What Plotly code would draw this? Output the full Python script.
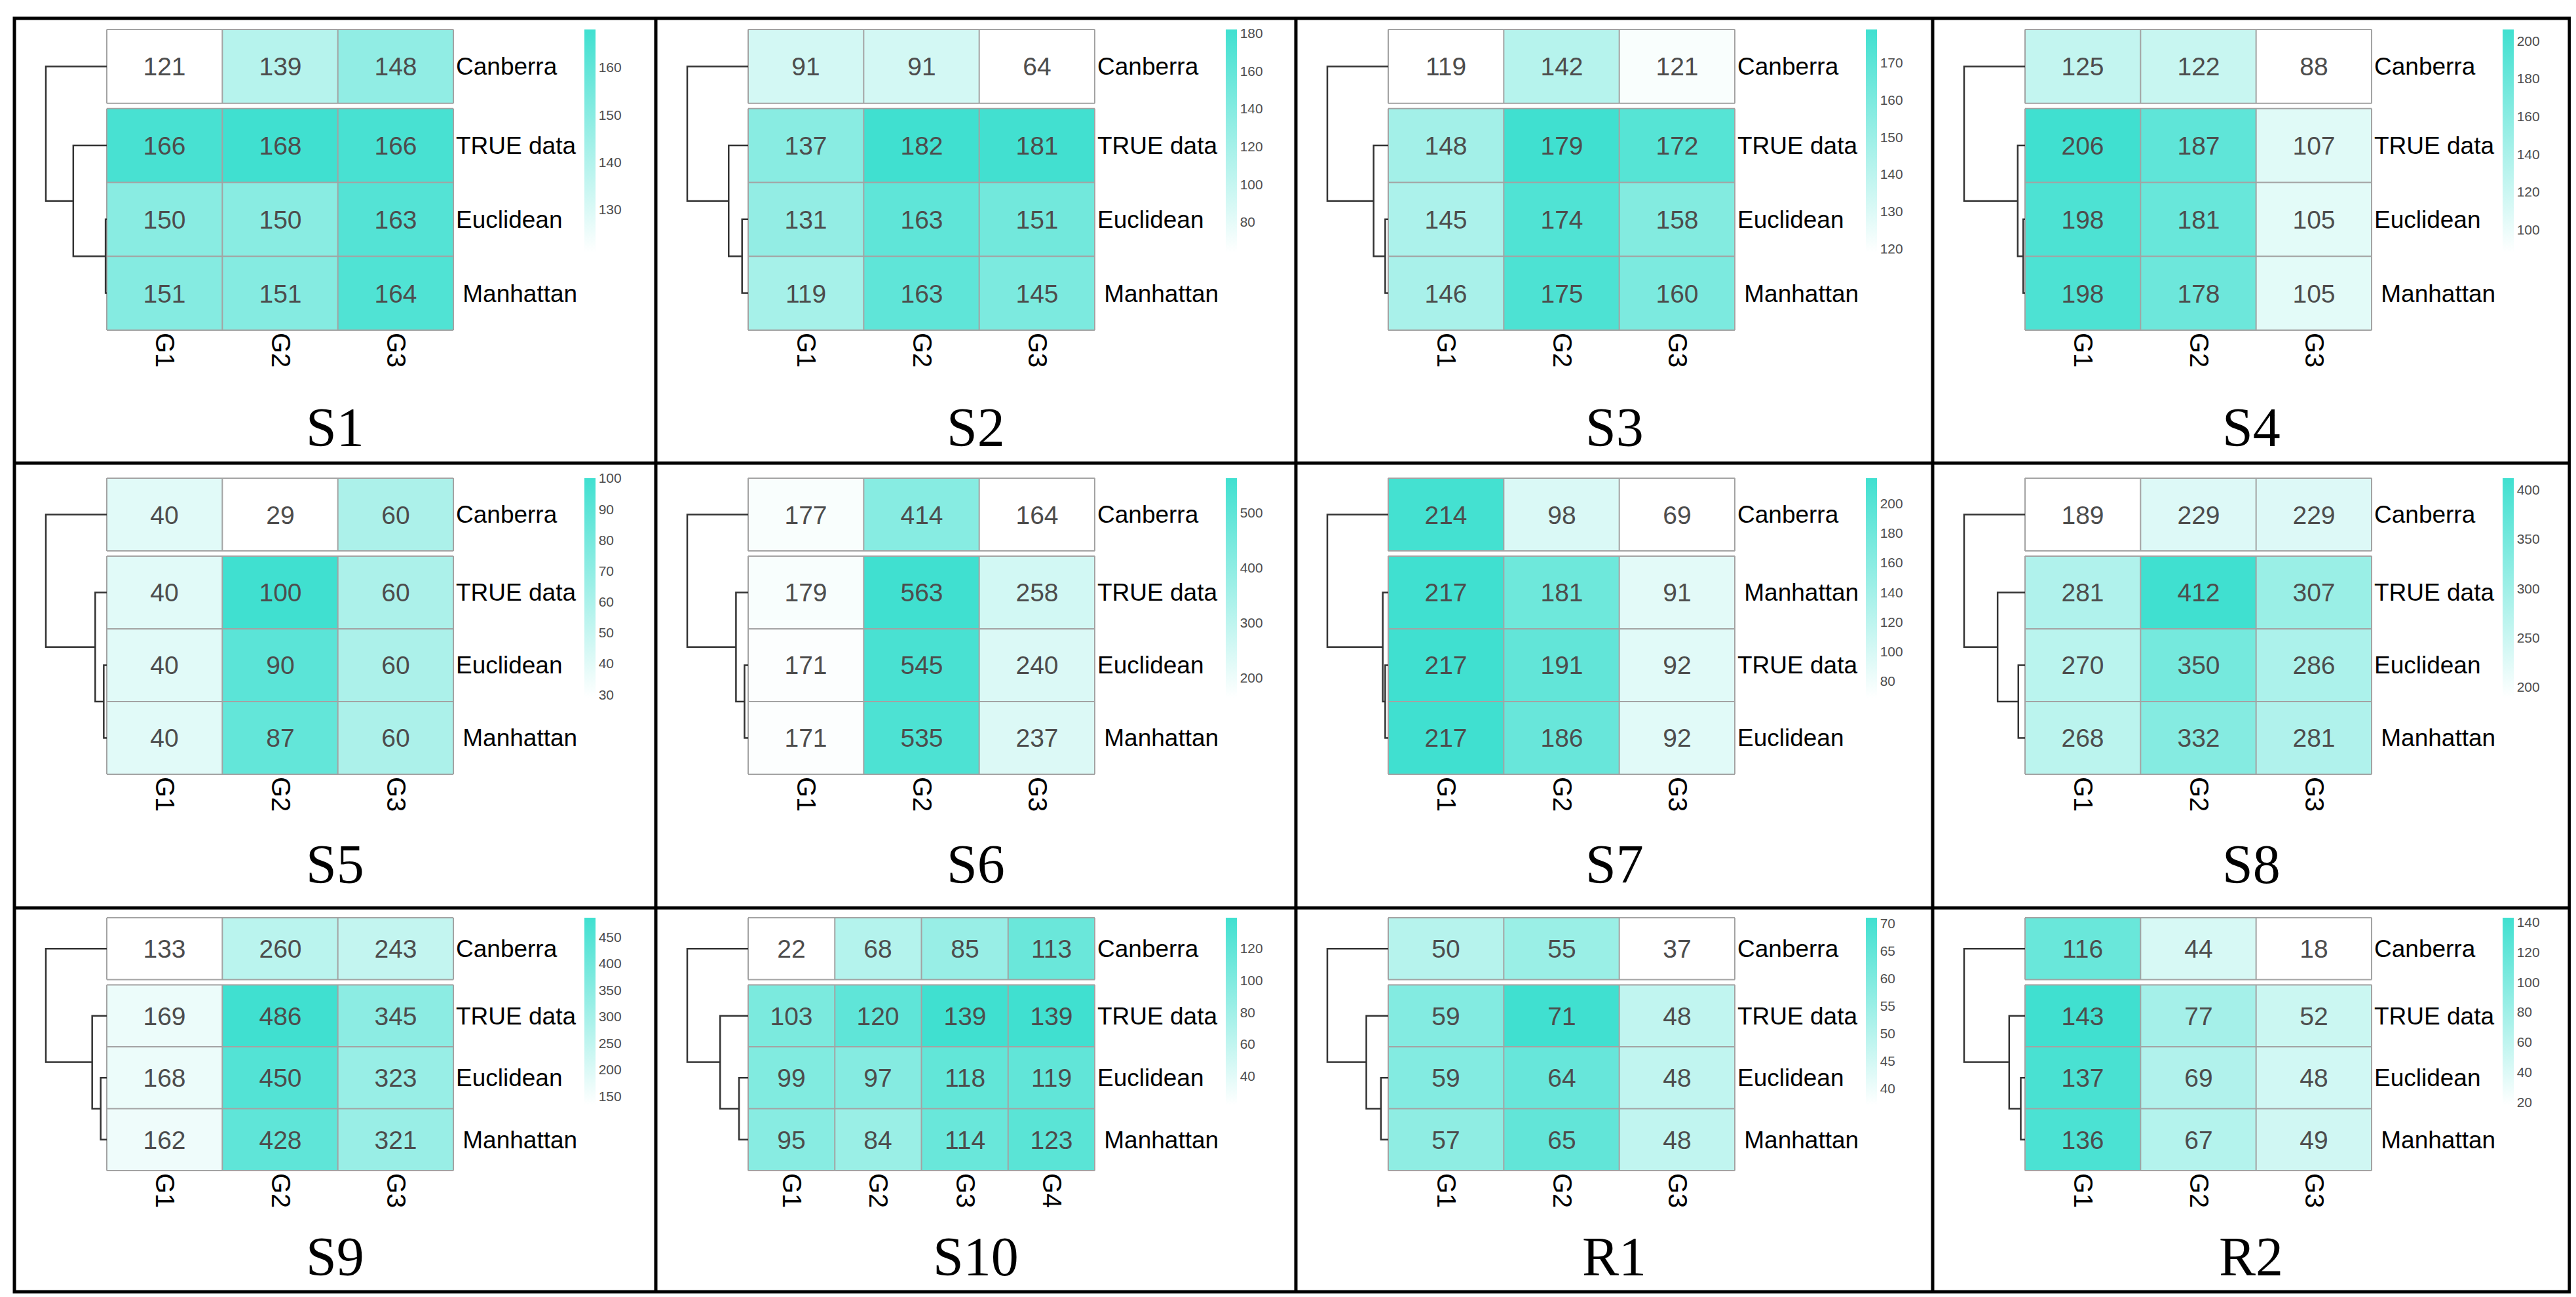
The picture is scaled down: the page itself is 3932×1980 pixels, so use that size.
import plotly.graph_objects as go

# ---------------- data ----------------
panel_names = ["S1", "S2", "S3", "S4", "S5", "S6", "S7", "S8", "S9", "S10", "R1", "R2"]

cols3 = ["G1", "G2", "G3"]
cols4 = ["G1", "G2", "G3", "G4"]
rows_std = ["Canberra", "TRUE data", "Euclidean", "Manhattan"]
rows_s7 = ["Canberra", "Manhattan", "TRUE data", "Euclidean"]

S1_vals = [[121, 139, 148], [166, 168, 166], [150, 150, 163], [151, 151, 164]]
S2_vals = [[91, 91, 64], [137, 182, 181], [131, 163, 151], [119, 163, 145]]
S3_vals = [[119, 142, 121], [148, 179, 172], [145, 174, 158], [146, 175, 160]]
S4_vals = [[125, 122, 88], [206, 187, 107], [198, 181, 105], [198, 178, 105]]
S5_vals = [[40, 29, 60], [40, 100, 60], [40, 90, 60], [40, 87, 60]]
S6_vals = [[177, 414, 164], [179, 563, 258], [171, 545, 240], [171, 535, 237]]
S7_vals = [[214, 98, 69], [217, 181, 91], [217, 191, 92], [217, 186, 92]]
S8_vals = [[189, 229, 229], [281, 412, 307], [270, 350, 286], [268, 332, 281]]
S9_vals = [[133, 260, 243], [169, 486, 345], [168, 450, 323], [162, 428, 321]]
S10_vals = [[22, 68, 85, 113], [103, 120, 139, 139], [99, 97, 118, 119], [95, 84, 114, 123]]
R1_vals = [[50, 55, 37], [59, 71, 48], [59, 64, 48], [57, 65, 48]]
R2_vals = [[116, 44, 18], [143, 77, 52], [137, 69, 48], [136, 67, 49]]

S1_ticks = [130, 140, 150, 160]
S2_ticks = [80, 100, 120, 140, 160, 180]
S3_ticks = [120, 130, 140, 150, 160, 170]
S4_ticks = [100, 120, 140, 160, 180, 200]
S5_ticks = [30, 40, 50, 60, 70, 80, 90, 100]
S6_ticks = [200, 300, 400, 500]
S7_ticks = [80, 100, 120, 140, 160, 180, 200]
S8_ticks = [200, 250, 300, 350, 400]
S9_ticks = [150, 200, 250, 300, 350, 400, 450]
S10_ticks = [40, 60, 80, 100, 120]
R1_ticks = [40, 45, 50, 55, 60, 65, 70]
R2_ticks = [20, 40, 60, 80, 100, 120, 140]

# dendrogram merge heights (relative to root = 1): [inner join of rows 2-3, join of row 1 with that]
S1_tree = [0.02, 0.55]
S2_tree = [0.10, 0.32]
S3_tree = [0.05, 0.24]
S4_tree = [0.03, 0.12]
S5_tree = [0.05, 0.19]
S6_tree = [0.06, 0.20]
S7_tree = [0.05, 0.09]
S8_tree = [0.11, 0.45]
S9_tree = [0.10, 0.24]
S10_tree = [0.15, 0.46]
R1_tree = [0.12, 0.36]
R2_tree = [0.07, 0.26]

panels = [
    dict(name="S1", cols=cols3, rows=rows_std, vals=S1_vals, ticks=S1_ticks, tree=S1_tree),
    dict(name="S2", cols=cols3, rows=rows_std, vals=S2_vals, ticks=S2_ticks, tree=S2_tree),
    dict(name="S3", cols=cols3, rows=rows_std, vals=S3_vals, ticks=S3_ticks, tree=S3_tree),
    dict(name="S4", cols=cols3, rows=rows_std, vals=S4_vals, ticks=S4_ticks, tree=S4_tree),
    dict(name="S5", cols=cols3, rows=rows_std, vals=S5_vals, ticks=S5_ticks, tree=S5_tree),
    dict(name="S6", cols=cols3, rows=rows_std, vals=S6_vals, ticks=S6_ticks, tree=S6_tree),
    dict(name="S7", cols=cols3, rows=rows_s7, vals=S7_vals, ticks=S7_ticks, tree=S7_tree),
    dict(name="S8", cols=cols3, rows=rows_std, vals=S8_vals, ticks=S8_ticks, tree=S8_tree),
    dict(name="S9", cols=cols3, rows=rows_std, vals=S9_vals, ticks=S9_ticks, tree=S9_tree),
    dict(name="S10", cols=cols4, rows=rows_std, vals=S10_vals, ticks=S10_ticks, tree=S10_tree),
    dict(name="R1", cols=cols3, rows=rows_std, vals=R1_vals, ticks=R1_ticks, tree=R1_tree),
    dict(name="R2", cols=cols3, rows=rows_std, vals=R2_vals, ticks=R2_ticks, tree=R2_tree),
]

# ---------------- layout / style ----------------
W, H = 3932, 1980
XB = [14, 993, 1970, 2942, 3914]
YB = [20, 699, 1378, 1964]
ROW_GEO = [
    dict(hm_top=17, hm_bot=476, cb_top=17, cb_len=340, title_y=625),
    dict(hm_top=23, hm_bot=475, cb_top=23, cb_len=335, title_y=612),
    dict(hm_top=15, hm_bot=401, cb_top=15, cb_len=286, title_y=532),
]
HM_LEFT, HM_RIGHT = 141, 670
CB_X = 870
DW = 93          # dendrogram width in px
DPAD = 100
GAP_PX = 8
PAD = 3

SANS = "Liberation Sans, Arial, sans-serif"
SERIF = "Liberation Serif, Times New Roman, serif"
COLORSCALE = [[0, "#FFFFFF"], [1, "#40E0D0"]]
CELL_BORDER = "#A3A3A3"
TREE_COLOR = "#333333"

fig = go.Figure()
layout_axes = {}
annotations = []

for i, p in enumerate(panels):
    r, c = divmod(i, 4)
    x0, y0 = XB[c], YB[r]
    geo = ROW_GEO[r]
    left, right = x0 + HM_LEFT, x0 + HM_RIGHT
    top, bot = y0 + geo["hm_top"], y0 + geo["hm_bot"]
    n = len(p["cols"])
    pxcol = (right - left) / n
    gap = GAP_PX / ((bot - top) / 4.0)
    pxrow = (bot - top) / (4 + gap)
    zmin = min(min(rw) for rw in p["vals"])
    zmax = max(max(rw) for rw in p["vals"])
    k = "" if i == 0 else str(i + 1)
    xa, ya = "x" + k, "y" + k

    xedges = list(range(n + 1))
    common = dict(colorscale=COLORSCALE, zmin=zmin, zmax=zmax, texttemplate="%{z}",
                  textfont=dict(family=SANS, size=39, color="#4D4D4D"),
                  hoverinfo="skip", xaxis=xa, yaxis=ya)
    fig.add_trace(go.Heatmap(z=[p["vals"][0]], x=xedges, y=[0, 1], showscale=True,
                             colorbar=dict(x=(x0 + CB_X) / W, xanchor="left",
                                           y=1 - (y0 + geo["cb_top"]) / H, yanchor="top",
                                           len=geo["cb_len"], lenmode="pixels",
                                           thickness=17, thicknessmode="pixels",
                                           xpad=0, ypad=0, outlinewidth=0, borderwidth=0,
                                           tickvals=p["ticks"], ticks="",
                                           tickfont=dict(family=SANS, size=21, color="#4D4D4D")),
                             **common))
    yB = [1 + gap + j for j in range(4)]
    fig.add_trace(go.Heatmap(z=p["vals"][1:], x=xedges, y=yB, showscale=False, **common))

    # cell borders
    bx, by = [], []
    for (ylo, yhi, nr) in [(0, 1, 1), (1 + gap, 4 + gap, 3)]:
        for j in range(nr + 1):
            bx += [0, n, None]
            by += [ylo + j, ylo + j, None]
        for cc in range(n + 1):
            bx += [cc, cc, None]
            by += [ylo, yhi, None]
    fig.add_trace(go.Scatter(x=bx, y=by, mode="lines", line=dict(color=CELL_BORDER, width=2),
                             hoverinfo="skip", showlegend=False, xaxis=xa, yaxis=ya))

    # dendrogram
    D = DW / pxcol
    yc = [0.5, 1.5 + gap, 2.5 + gap, 3.5 + gap]
    h_low, h_mid = p["tree"]
    c_low = (yc[2] + yc[3]) / 2
    c_mid = (yc[1] + c_low) / 2
    dx, dy = [], []

    def u(ya_, ha, yb_, hb, hh):
        dx.extend([-ha * D, -hh * D, -hh * D, -hb * D, None])
        dy.extend([ya_, ya_, yb_, yb_, None])

    u(yc[2], 0, yc[3], 0, h_low)
    u(yc[1], 0, c_low, h_low, h_mid)
    u(yc[0], 0, c_mid, h_mid, 1.0)
    fig.add_trace(go.Scatter(x=dx, y=dy, mode="lines", line=dict(color=TREE_COLOR, width=2.5),
                             hoverinfo="skip", showlegend=False, xaxis=xa, yaxis=ya))

    row_text = ["\u00a0" + nm if nm == "Manhattan" else nm for nm in p["rows"]]
    layout_axes["xaxis" + k] = dict(
        domain=[(left - DPAD) / W, (right + PAD) / W],
        range=[-DPAD / pxcol, n + PAD / pxcol], anchor=ya,
        tickmode="array", tickvals=[j + 0.5 for j in range(n)], ticktext=p["cols"],
        tickangle=90, ticks="", showgrid=False, zeroline=False, showline=False,
        tickfont=dict(family=SANS, size=40, color="black"), fixedrange=True)
    layout_axes["yaxis" + k] = dict(
        domain=[1 - (bot + PAD) / H, 1 - (top - PAD) / H],
        range=[4 + gap + PAD / pxrow, -PAD / pxrow], anchor=xa, side="right",
        tickmode="array", tickvals=yc, ticktext=row_text, ticks="",
        showgrid=False, zeroline=False, showline=False,
        tickfont=dict(family=SANS, size=37, color="black"), fixedrange=True)

    annotations.append(dict(text=p["name"], xref="paper", yref="paper",
                            x=(XB[c] + XB[c + 1]) / 2 / W, y=1 - (y0 + geo["title_y"]) / H,
                            xanchor="center", yanchor="middle", showarrow=False,
                            font=dict(family=SERIF, size=84, color="black")))

shapes = [dict(type="rect", xref="paper", yref="paper", x0=XB[0] / W, x1=XB[-1] / W,
               y0=1 - YB[-1] / H, y1=1 - YB[0] / H, line=dict(color="black", width=5))]
for xv in XB[1:-1]:
    shapes.append(dict(type="line", xref="paper", yref="paper", x0=xv / W, x1=xv / W,
                       y0=1 - YB[-1] / H, y1=1 - YB[0] / H, line=dict(color="black", width=5)))
for yv in YB[1:-1]:
    shapes.append(dict(type="line", xref="paper", yref="paper", x0=XB[0] / W, x1=XB[-1] / W,
                       y0=1 - yv / H, y1=1 - yv / H, line=dict(color="black", width=5)))

fig.update_layout(width=W, height=H, margin=dict(l=0, r=0, t=0, b=0), autosize=False,
                  paper_bgcolor="white", plot_bgcolor="white", showlegend=False,
                  shapes=shapes, annotations=annotations, **layout_axes)

fig.write_html("out.html")
